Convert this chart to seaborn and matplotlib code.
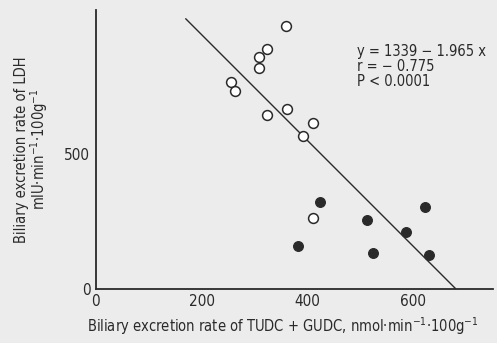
import matplotlib
matplotlib.use("Agg")
import matplotlib.pyplot as plt
import seaborn as sns
import numpy as np
import pandas as pd
from matplotlib import font_manager

# ---- data ----
open_x = [360, 324, 309, 308, 255, 264, 362, 324, 411, 393, 411]
open_y = [977, 891, 861, 820, 770, 736, 669, 646, 618, 568, 264]
filled_x = [425, 382, 513, 524, 587, 624, 630]
filled_y = [324, 158, 256, 135, 212, 305, 125]
intercept = 1339
slope = -1.965
line_x = [170, 681]
x_ticks = [0, 200, 400, 600]
y_ticks = [0, 500]

sns.set_style("white")
cond = [f for f in font_manager.fontManager.ttflist
        if str(f.stretch) in ("condensed", "semi-condensed", "extra-condensed", "ultra-condensed")
        or (isinstance(f.stretch, int) and f.stretch < 500)
        or "Condensed" in f.fname or "Narrow" in f.fname]
if cond:
    fam = cond[0].name
    plt.rcParams["font.family"] = [fam, "DejaVu Sans"]
    plt.rcParams["font.stretch"] = str(cond[0].stretch)
    fs = 10.5
else:
    plt.rcParams["font.family"] = ["DejaVu Sans"]
    fs = 9

ink = "#2a2a2a"
bg = "#ececec"

fig = plt.figure(figsize=(4.97, 3.43), dpi=100, facecolor=bg)
ax = fig.add_axes([0.193, 0.158, 0.799, 0.8125])
ax.set_facecolor(bg)

df_open = pd.DataFrame({"x": open_x, "y": open_y})
df_fill = pd.DataFrame({"x": filled_x, "y": filled_y})
df_line = pd.DataFrame({"x": line_x, "y": [intercept + slope * v for v in line_x]})

sns.lineplot(data=df_line, x="x", y="y", ax=ax, color=ink, lw=1.0)
sns.scatterplot(data=df_open, x="x", y="y", ax=ax, marker="o", s=50,
                facecolor="white", edgecolor=ink, linewidth=1.1, zorder=3)
sns.scatterplot(data=df_fill, x="x", y="y", ax=ax, marker="o", s=50,
                color=ink, edgecolor=ink, linewidth=0.8, zorder=3)

ax.set_xlim(0, 752)
ax.set_ylim(0, 1037)
ax.set_xticks(x_ticks)
ax.set_yticks(y_ticks)
for s in ["top", "right"]:
    ax.spines[s].set_visible(False)
for s in ["left", "bottom"]:
    ax.spines[s].set_color(ink)
    ax.spines[s].set_linewidth(1.3)
ax.tick_params(direction="in", length=7, width=1, color=ink, labelcolor=ink,
               labelsize=fs + 0.5, pad=4)

ax.set_xlabel("Biliary excretion rate of TUDC + GUDC, nmol·min$^{-1}$·100g$^{-1}$",
              fontsize=fs, color=ink, labelpad=6)
ax.xaxis.set_label_coords(0.47, -0.095)
ax.set_ylabel("Biliary excretion rate of LDH\nmIU·min$^{-1}$·100g$^{-1}$",
              fontsize=fs, color=ink, labelpad=10, linespacing=1.0)

ax.text(0.657, 0.88, "y = 1339 − 1.965 x\nr = − 0.775\nP < 0.0001",
        transform=ax.transAxes, fontsize=fs, color=ink, va="top", ha="left",
        linespacing=1.0)

fig.savefig("out.png", dpi=100, facecolor=bg)
